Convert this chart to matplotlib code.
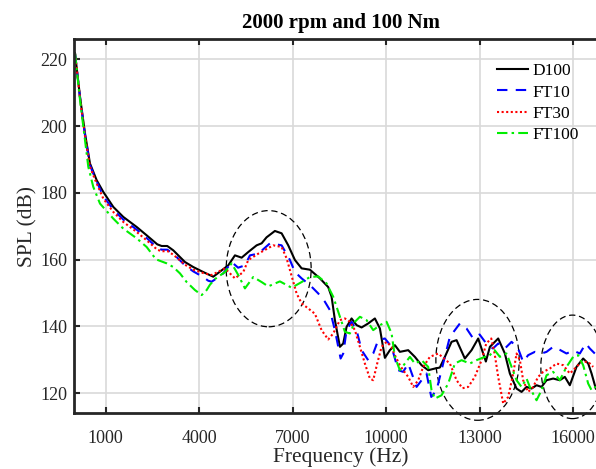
import matplotlib
matplotlib.use('Agg')

import matplotlib.pyplot as plt
from matplotlib.patches import Ellipse

plt.rcParams['font.family'] = ['Liberation Serif', 'DejaVu Serif']

# D100
f_d100 = [15, 176, 336, 496, 711, 923, 1244, 1565, 1994, 2315, 2655, 2796, 2976, 3169, 3383,
          3544, 3810, 4131, 4452, 4933, 5148, 5363, 5576, 5844, 6004, 6163, 6430, 6646, 6858,
          7073, 7288, 7554, 7875, 8141, 8250, 8356, 8517, 8623, 8731, 8891, 9052, 9212, 9424,
          9639, 9800, 9960, 10120, 10281, 10441, 10708, 10922, 11137, 11350, 11564, 11724,
          11885, 12100, 12260, 12526, 12741, 12954, 13200, 13330, 13596, 13810, 13971, 14185,
          14346, 14506, 14667, 14827, 14987, 15148, 15360, 15574, 15735, 15895, 16109, 16323,
          16484, 16593, 16729]
spl_d100 = [221.8, 208.8, 197.8, 188.8, 183.8, 180.3, 175.8, 172.8, 169.8, 167.3, 164.6, 164.1,
            164.1, 162.8, 160.8, 159.3, 157.8, 156.3, 154.9, 158.3, 161.3, 160.6, 162.3, 164.3,
            164.9, 166.7, 168.6, 167.9, 164.3, 159.9, 157.4, 157.0, 154.4, 151.8, 148.9, 141.9,
            133.9, 134.9, 139.9, 142.4, 140.4, 139.7, 140.9, 142.4, 139.4, 130.6, 132.9, 134.4,
            132.4, 132.9, 130.9, 128.4, 126.9, 127.4, 127.7, 130.9, 135.4, 135.9, 130.4, 132.9,
            136.4, 129.5, 133.9, 136.4, 131.9, 125.9, 121.4, 120.4, 121.9, 121.4, 122.4, 121.9,
            123.9, 124.4, 123.9, 124.9, 122.4, 127.9, 130.4, 128.9, 125.9, 121.4]

# FT10
f_ft10 = [15, 176, 336, 496, 657, 923, 1244, 1565, 1994, 2315, 2655, 2796, 2976, 3169, 3383,
          3544, 3810, 4131, 4291, 4400, 4561, 4773, 5042, 5250, 5469, 5629, 5896, 6272, 6646,
          6912, 7073, 7288, 7554, 7820, 8035, 8195, 8356, 8539, 8623, 8731, 8891, 9052, 9212,
          9424, 9585, 9745, 9960, 10175, 10388, 10548, 10708, 10977, 11137, 11297, 11448,
          11618, 11830, 12046, 12367, 12580, 12793, 13000, 13214, 13428, 13596, 13810, 14025,
          14235, 14397, 14557, 14773, 14987, 15148, 15360, 15574, 15789, 16002, 16216, 16408,
          16536, 16697]
spl_ft10 = [221.8, 208.5, 197.3, 188.3, 184.5, 179.0, 175.0, 172.0, 169.0, 166.5, 163.5, 163.0,
            163.0, 161.8, 159.8, 158.3, 156.5, 154.8, 153.7, 153.4, 154.4, 155.9, 159.3, 157.6,
            158.3, 161.3, 161.8, 164.9, 164.3, 159.9, 156.3, 154.4, 152.4, 149.9, 147.4, 144.9,
            138.9, 130.4, 131.9, 138.9, 141.4, 138.9, 132.9, 129.9, 131.9, 135.9, 136.4, 133.9,
            126.9, 126.4, 128.9, 121.9, 123.9, 125.9, 118.9, 120.9, 128.9, 136.9, 140.9, 139.4,
            136.4, 137.6, 134.9, 133.4, 134.9, 133.4, 135.4, 133.4, 129.4, 131.4, 132.4, 131.9,
            132.4, 133.9, 133.0, 131.9, 132.8, 131.9, 134.9, 133.4, 131.9]

# FT30
f_ft30 = [15, 176, 336, 496, 657, 923, 1244, 1565, 1994, 2315, 2655, 2796, 2976, 3169, 3383,
          3544, 3810, 4131, 4400, 4827, 5148, 5415, 5576, 5896, 6377, 6646, 6806, 7019, 7126,
          7288, 7500, 7714, 7928, 8141, 8302, 8517, 8677, 8837, 8998, 9158, 9318, 9479, 9585,
          9713, 9854, 10014, 10175, 10281, 10441, 10548, 10708, 10869, 11030, 11190, 11404,
          11671, 12046, 12260, 12450, 12633, 12847, 13062, 13214, 13374, 13481, 13596, 13757,
          13917, 14078, 14185, 14292, 14397, 14557, 14718, 14878, 15040, 15254, 15468, 15682,
          15895, 16109, 16270, 16484, 16644]
spl_ft30 = [221.8, 208.3, 197.0, 187.8, 184.0, 178.3, 174.3, 171.3, 168.3, 165.8, 163.0, 162.5,
            162.6, 161.5, 159.8, 158.5, 157.0, 156.0, 155.4, 157.4, 154.4, 156.3, 159.9, 161.8,
            164.3, 163.8, 160.4, 153.4, 149.9, 146.9, 145.4, 143.8, 138.9, 136.1, 137.9, 141.9,
            142.4, 141.4, 138.9, 133.9, 128.9, 124.4, 123.9, 128.9, 133.9, 135.4, 133.9, 131.4,
            128.4, 126.9, 124.9, 121.9, 123.9, 127.9, 130.9, 131.9, 128.9, 123.9, 121.5, 121.9,
            124.9, 129.9, 134.9, 136.4, 131.9, 124.9, 116.9, 118.9, 125.9, 131.9, 129.9, 123.9,
            120.4, 121.9, 124.9, 126.4, 127.4, 128.9, 128.4, 125.9, 127.9, 129.4, 129.4, 127.9]

# FT100
f_ft100 = [15, 176, 336, 442, 602, 817, 1244, 1565, 1994, 2315, 2614, 2957, 3169, 3383, 3598,
           3865, 4080, 4240, 4346, 4507, 4827, 5042, 5255, 5469, 5735, 6004, 6216, 6591, 6967,
           7288, 7554, 7820, 8088, 8302, 8517, 8677, 8837, 8998, 9158, 9372, 9585, 9800, 10014,
           10175, 10281, 10441, 10602, 10762, 10922, 11137, 11350, 11457, 11564, 11778, 11992,
           12206, 12420, 12687, 12901, 13169, 13276, 13481, 13651, 13865, 14025, 14185, 14346,
           14506, 14650, 14827, 14987, 15148, 15360, 15574, 15789, 16002, 16163, 16323, 16484,
           16593, 16729]
spl_ft100 = [221.8, 207.8, 195.8, 187.8, 181.8, 176.8, 172.3, 169.3, 166.4, 163.8, 160.1, 158.9,
             157.8, 155.9, 153.3, 150.9, 149.4, 150.9, 152.5, 154.2, 156.3, 158.9, 155.4, 151.4,
             154.8, 153.3, 152.0, 153.5, 151.6, 153.3, 154.8, 155.0, 152.9, 148.9, 142.9, 138.4,
             137.9, 141.4, 142.9, 141.9, 138.9, 140.4, 141.4, 137.9, 130.9, 126.9, 128.9, 130.9,
             128.9, 129.9, 127.9, 120.9, 118.4, 119.4, 122.9, 128.9, 129.9, 128.9, 129.9, 130.9,
             130.9, 132.9, 130.9, 131.9, 127.9, 123.9, 121.9, 124.4, 121.0, 117.9, 120.9, 125.4,
             126.4, 123.9, 127.9, 130.9, 131.4, 128.4, 122.9, 120.9, 122.0]

x_ticks = [1000, 4000, 7000, 10000, 13000, 16000]
y_ticks = [120, 140, 160, 180, 200, 220]

# (centre Hz, centre dB, width Hz, height dB)
circles = [(6230, 157.3, 2727, 34.8), (12934, 130.0, 2675, 36.2), (15980, 127.9, 2030, 31.0)]

fig = plt.figure(figsize=(5.96, 4.69), dpi=100)
ax = fig.add_axes([74 / 596, 0.1188, 534 / 596, 0.7974])

ax.plot(f_d100, spl_d100, color='black', lw=1.5, label='D100')
ax.plot(f_ft10, spl_ft10, color='blue', lw=1.5, ls=(0, (5, 4)), label='FT10')
ax.plot(f_ft30, spl_ft30, color='red', lw=1.5, ls=(0, (1, 1.2)), label='FT30')
ax.plot(f_ft100, spl_ft100, color='#00ee00', lw=1.5, ls=(0, (5, 2, 1.2, 2)), label='FT100')

for cx, cy, w, h in circles:
    ax.add_patch(Ellipse((cx, cy), w, h, fill=False, ec='black', lw=0.9,
                         ls=(0, (5, 3)), clip_on=False))

ax.set_xlim(-17, 17120)
ax.set_ylim(114, 226)
ax.set_xticks(x_ticks)
ax.set_yticks(y_ticks)
ax.grid(True, color='#d9d9d9', lw=1.2)
ax.set_axisbelow(True)
ax.tick_params(direction='in', length=4.5, width=1.5, colors='#262626', labelsize=13,
               top=True, pad=12)
ax.tick_params(axis='y', pad=5)
for s in ax.spines.values():
    s.set_linewidth(2)
    s.set_color('#262626')

ax.set_title('2000 rpm and 100 Nm', fontsize=15, fontweight='bold', pad=8)
ax.set_xlabel('Frequency (Hz)', fontsize=15.5, color='#262626', labelpad=0)
ax.set_ylabel('SPL (dB)', fontsize=15.5, color='#262626', labelpad=2)

ax.legend(loc='upper left', bbox_to_anchor=(497 / 596, 1 - 63 / 469),
          bbox_transform=fig.transFigure, frameon=False,
          fontsize=12.5, handlelength=1.8, handletextpad=0.25, labelspacing=0.3,
          borderaxespad=0, borderpad=0)

fig.savefig('out.png', dpi=100)
